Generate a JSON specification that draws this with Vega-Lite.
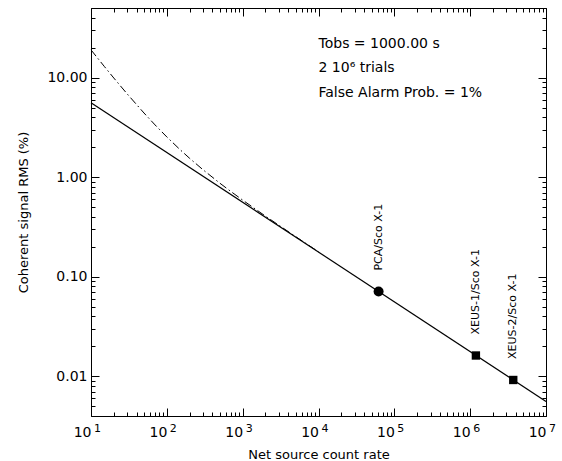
{
  "$schema": "https://vega.github.io/schema/vega-lite/v6.json",
  "width": 455,
  "height": 408,
  "autosize": {"type": "none"},
  "padding": {"left": 91, "top": 8, "right": 16, "bottom": 45},
  "config": {
    "view": {"stroke": null},
    "font": "DejaVu Sans",
    "axis": {
      "grid": false,
      "domainColor": "black",
      "domainWidth": 1,
      "tickColor": "black",
      "tickWidth": 1,
      "labelColor": "black",
      "titleColor": "black",
      "labelFont": "DejaVu Sans",
      "titleFont": "DejaVu Sans",
      "labelFontSize": 14,
      "titleFontSize": 13,
      "titleFontWeight": "normal",
      "labelOverlap": false,
      "labelFlush": false,
      "labelBound": false
    }
  },
  "datasets": {
    "solid": [
      {"rate": 10, "rms": 5.6},
      {"rate": 10000000, "rms": 0.0056}
    ],
    "dashed": [
      {"rate": 10, "rms": 18.99},
      {"rate": 15, "rms": 12.93},
      {"rate": 20, "rms": 9.90},
      {"rate": 30, "rms": 6.859},
      {"rate": 50, "rms": 4.410},
      {"rate": 70, "rms": 3.347},
      {"rate": 100, "rms": 2.536},
      {"rate": 150, "rms": 1.885},
      {"rate": 200, "rms": 1.546},
      {"rate": 300, "rms": 1.188},
      {"rate": 500, "rms": 0.8712},
      {"rate": 700, "rms": 0.7178},
      {"rate": 1000, "rms": 0.5887},
      {"rate": 2000, "rms": 0.4063},
      {"rate": 5000, "rms": 0.2531},
      {"rate": 10000, "rms": 0.1780}
    ],
    "sources": [
      {"rate": 62000, "rms": 0.0711, "mission": "PCA", "label": "PCA/Sco X-1"},
      {"rate": 1190000, "rms": 0.0162, "mission": "XEUS", "label": "XEUS-1/Sco X-1"},
      {"rate": 3700000, "rms": 0.0092, "mission": "XEUS", "label": "XEUS-2/Sco X-1"}
    ],
    "notes": [
      {"rate": 10000, "rms": 21.9, "text": "Tobs = 1000.00 s"},
      {"rate": 10000, "rms": 12.6, "text": "2 10⁶ trials"},
      {"rate": 10000, "rms": 7.08, "text": "False Alarm Prob. = 1%"}
    ],
    "exponents": [
      {"rate": 10, "rms": 0.004, "exp": "1"},
      {"rate": 100, "rms": 0.004, "exp": "2"},
      {"rate": 1000, "rms": 0.004, "exp": "3"},
      {"rate": 10000, "rms": 0.004, "exp": "4"},
      {"rate": 100000, "rms": 0.004, "exp": "5"},
      {"rate": 1000000, "rms": 0.004, "exp": "6"},
      {"rate": 10000000, "rms": 0.004, "exp": "7"}
    ]
  },
  "layer": [
    {
      "data": {"name": "solid"},
      "mark": {"type": "line", "color": "black", "strokeWidth": 1.2},
      "encoding": {
        "x": {
          "field": "rate", "type": "quantitative",
          "scale": {"type": "log", "domain": [10, 10000000], "nice": false},
          "axis": {
            "orient": "bottom",
            "title": "Net source count rate",
            "titlePadding": 5,
            "values": [10,20,30,40,50,60,70,80,90,100,200,300,400,500,600,700,800,900,1000,2000,3000,4000,5000,6000,7000,8000,9000,10000,20000,30000,40000,50000,60000,70000,80000,90000,100000,200000,300000,400000,500000,600000,700000,800000,900000,1000000,2000000,3000000,4000000,5000000,6000000,7000000,8000000,9000000,10000000],
            "tickSize": {"condition": {"test": "abs(log(datum.value)/LN10 - round(log(datum.value)/LN10)) < 0.001", "value": -8}, "value": -4},
            "labelPadding": 24,
            "labelAlign": "right",
            "labelBaseline": "middle",
            "labelDx": 1,
            "labelExpr": "abs(log(datum.value)/LN10 - round(log(datum.value)/LN10)) < 0.001 ? '10' : ''"
          }
        },
        "y": {
          "field": "rms", "type": "quantitative",
          "scale": {"type": "log", "domain": [0.004, 50], "nice": false},
          "axis": {
            "orient": "left",
            "title": "Coherent signal RMS (%)",
            "titlePadding": 16,
            "values": [0.004,0.005,0.006,0.007,0.008,0.009,0.01,0.02,0.03,0.04,0.05,0.06,0.07,0.08,0.09,0.1,0.2,0.3,0.4,0.5,0.6,0.7,0.8,0.9,1,2,3,4,5,6,7,8,9,10,20,30,40,50],
            "tickSize": {"condition": {"test": "abs(log(datum.value)/LN10 - round(log(datum.value)/LN10)) < 0.001", "value": -8}, "value": -4},
            "labelPadding": 12,
            "labelExpr": "abs(log(datum.value)/LN10 - round(log(datum.value)/LN10)) < 0.001 ? format(datum.value, '.2f') : ''"
          }
        }
      }
    },
    {
      "data": {"name": "dashed"},
      "mark": {"type": "line", "color": "black", "strokeWidth": 1, "strokeDash": [8, 3, 1.5, 3]},
      "encoding": {
        "x": {
          "field": "rate", "type": "quantitative",
          "axis": {
            "orient": "top", "title": null, "labels": false,
            "values": [10,20,30,40,50,60,70,80,90,100,200,300,400,500,600,700,800,900,1000,2000,3000,4000,5000,6000,7000,8000,9000,10000,20000,30000,40000,50000,60000,70000,80000,90000,100000,200000,300000,400000,500000,600000,700000,800000,900000,1000000,2000000,3000000,4000000,5000000,6000000,7000000,8000000,9000000,10000000],
            "tickSize": {"condition": {"test": "abs(log(datum.value)/LN10 - round(log(datum.value)/LN10)) < 0.001", "value": -8}, "value": -4}
          }
        },
        "y": {
          "field": "rms", "type": "quantitative",
          "axis": {
            "orient": "right", "title": null, "labels": false,
            "values": [0.004,0.005,0.006,0.007,0.008,0.009,0.01,0.02,0.03,0.04,0.05,0.06,0.07,0.08,0.09,0.1,0.2,0.3,0.4,0.5,0.6,0.7,0.8,0.9,1,2,3,4,5,6,7,8,9,10,20,30,40,50],
            "tickSize": {"condition": {"test": "abs(log(datum.value)/LN10 - round(log(datum.value)/LN10)) < 0.001", "value": -8}, "value": -4}
          }
        }
      }
    },
    {
      "data": {"name": "sources"},
      "mark": {"type": "point", "filled": true, "color": "black", "opacity": 1},
      "encoding": {
        "x": {"field": "rate", "type": "quantitative", "axis": null},
        "y": {"field": "rms", "type": "quantitative", "axis": null},
        "shape": {"field": "mission", "type": "nominal", "scale": {"domain": ["PCA", "XEUS"], "range": ["circle", "square"]}, "legend": null},
        "size": {"field": "mission", "type": "nominal", "scale": {"domain": ["PCA", "XEUS"], "range": [100, 70]}, "legend": null}
      }
    },
    {
      "data": {"name": "sources"},
      "mark": {"type": "text", "angle": 270, "align": "left", "baseline": "middle", "dx": 21, "fontSize": 11, "font": "DejaVu Sans", "color": "black"},
      "encoding": {
        "x": {"field": "rate", "type": "quantitative", "axis": null},
        "y": {"field": "rms", "type": "quantitative", "axis": null},
        "text": {"field": "label"}
      }
    },
    {
      "data": {"name": "notes"},
      "mark": {"type": "text", "align": "left", "baseline": "middle", "fontSize": 14, "font": "DejaVu Sans", "color": "black"},
      "encoding": {
        "x": {"field": "rate", "type": "quantitative", "axis": null},
        "y": {"field": "rms", "type": "quantitative", "axis": null},
        "text": {"field": "text"}
      }
    },
    {
      "data": {"name": "exponents"},
      "mark": {"type": "text", "align": "left", "baseline": "middle", "dx": 3, "dy": 13, "fontSize": 11, "font": "DejaVu Sans", "color": "black"},
      "encoding": {
        "x": {"field": "rate", "type": "quantitative", "axis": null},
        "y": {"field": "rms", "type": "quantitative", "axis": null},
        "text": {"field": "exp"}
      }
    }
  ],
  "resolve": {"axis": {"x": "independent", "y": "independent"}}
}
